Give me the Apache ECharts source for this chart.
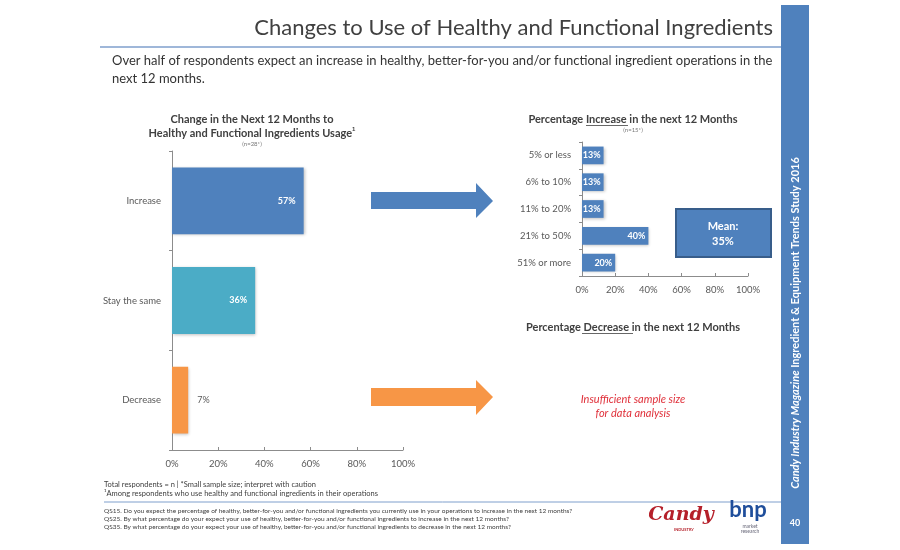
<!DOCTYPE html>
<html style="height: 100%">
<head>
    <meta charset="utf-8">
    <style>
        html, body { height: 100%; margin: 0; overflow: hidden; background: #fff; }
        #container { width: 900px; height: 550px; }
    </style>
    <title>Changes to Use of Healthy and Functional Ingredients</title>
</head>
<body>
<div id="container"></div>
<script src="https://cdn.jsdelivr.net/npm/echarts@6/dist/echarts.min.js"></script>
<script type="text/javascript">
// left chart: change in next 12 months (n=28*)
var changeCats = ['Increase', 'Stay the same', 'Decrease'];
var changeVals = [57, 36, 7];
var changeColors = ['#4f81bd', '#4bacc6', '#f79646'];
// right chart: percentage increase (n=15*)
var incCats = ['5% or less', '6% to 10%', '11% to 20%', '21% to 50%', '51% or more'];
var incVals = [13, 13, 13, 40, 20];
var meanText = 'Mean:\n35%';

var FONT = 'Lato, "Open Sans", sans-serif';
var grey = '#595959';

var chart = echarts.init(document.getElementById('container'));

function pctAxis(idx) {
    return {
        type: 'value', gridIndex: idx, min: 0, max: 100, interval: 20,
        axisLine: { show: true, lineStyle: { color: '#8c8c8c' } },
        axisTick: { show: true, inside: true, length: 3, lineStyle: { color: '#8c8c8c' } },
        splitLine: { show: false },
        axisLabel: { formatter: '{value}%', color: grey, fontFamily: FONT, fontSize: 9.5, margin: 9 }
    };
}
function catAxis(idx, cats) {
    return {
        type: 'category', gridIndex: idx, data: cats, inverse: true,
        axisLine: { show: true, lineStyle: { color: '#8c8c8c' } },
        axisTick: { show: true, length: 3, lineStyle: { color: '#8c8c8c' } },
        axisLabel: { color: grey, fontFamily: FONT, fontSize: 9.5, margin: 11 }
    };
}

var leftData = changeVals.map(function (v, i) {
    var d = { value: v, itemStyle: { color: changeColors[i] } };
    if (v < 15) {
        d.label = { position: 'right', distance: 9, color: grey, fontWeight: 'normal' };
    }
    return d;
});

var option = {
    animation: false,
    grid: [
        { left: 172, top: 151, width: 231, height: 299 },
        { left: 582, top: 142, width: 166, height: 134 }
    ],
    xAxis: [pctAxis(0), pctAxis(1)],
    yAxis: [catAxis(0, changeCats), catAxis(1, incCats)],
    series: [
        {
            type: 'bar', xAxisIndex: 0, yAxisIndex: 0, barWidth: '67%',
            data: leftData,
            itemStyle: { shadowBlur: 3, shadowOffsetX: 1, shadowOffsetY: 1, shadowColor: 'rgba(0,0,0,0.25)' },
            label: {
                show: true, position: 'insideRight', distance: 8, formatter: '{c}%',
                color: '#fff', fontWeight: 'bold', fontFamily: FONT, fontSize: 9
            }
        },
        {
            type: 'bar', xAxisIndex: 1, yAxisIndex: 1, barWidth: '66%',
            data: incVals,
            itemStyle: { color: '#4f81bd', shadowBlur: 3, shadowOffsetX: 1, shadowOffsetY: 1, shadowColor: 'rgba(0,0,0,0.25)' },
            label: {
                show: true, position: 'insideRight', distance: 3, formatter: '{c}%',
                color: '#fff', fontWeight: 'bold', fontFamily: FONT, fontSize: 9
            }
        }
    ],
    graphic: [
        // side band
        { type: 'rect', shape: { x: 781, y: 5, width: 28, height: 539 }, style: { fill: '#4f81bd' } },
        { type: 'text', x: 795, y: 323, rotation: Math.PI / 2, style: {
            text: '{i|Candy Industry Magazine} Ingredient & Equipment Trends Study 2016', fill: '#fff',
            rich: { i: { fill: '#fff', font: 'italic bold 11px ' + FONT } },
            font: 'bold 11px ' + FONT, align: 'center', verticalAlign: 'middle' } },
        { type: 'text', x: 795, y: 523, style: { text: '40', fill: '#fff', font: 'bold 9px ' + FONT, align: 'center', verticalAlign: 'middle' } },
        // header
        { type: 'text', x: 773, y: 28, style: { text: 'Changes to Use of Healthy and Functional Ingredients',
            fill: '#404040', font: '22px ' + FONT, align: 'right', verticalAlign: 'middle' } },
        { type: 'line', shape: { x1: 100, y1: 47, x2: 781, y2: 47 }, style: { stroke: '#7f9fcc', lineWidth: 1.5 } },
        { type: 'text', x: 112, y: 70, style: {
            text: 'Over half of respondents expect an increase in healthy, better-for-you and/or functional ingredient operations in the\nnext 12 months.',
            fill: '#333', font: '13px ' + FONT, lineHeight: 18, verticalAlign: 'middle' } },
        // left chart title
        { type: 'text', x: 252, y: 126, style: {
            text: 'Change in the Next 12 Months to\nHealthy and Functional Ingredients Usage{s|1}',
            rich: { s: { fontSize: 6, fontWeight: 'bold', fill: '#404040', verticalAlign: 'top', padding: [0, 0, 6, 0] } },
            fill: '#404040', font: 'bold 11px ' + FONT, lineHeight: 14, align: 'center', verticalAlign: 'middle' } },
        { type: 'text', x: 252, y: 144, style: { text: '(n=28*)', fill: '#777', font: '6px ' + FONT, align: 'center', verticalAlign: 'middle' } },
        // right chart titles
        { type: 'text', x: 633, y: 119, style: { text: 'Percentage Increase in the next 12 Months',
            fill: '#404040', font: 'bold 11px ' + FONT, align: 'center', verticalAlign: 'middle' } },
        { type: 'line', shape: { x1: 586, y1: 125.5, x2: 628, y2: 125.5 }, style: { stroke: '#404040', lineWidth: 0.8 } },
        { type: 'text', x: 633, y: 130, style: { text: '(n=15*)', fill: '#777', font: '6px ' + FONT, align: 'center', verticalAlign: 'middle' } },
        { type: 'text', x: 633, y: 327, style: { text: 'Percentage Decrease in the next 12 Months',
            fill: '#404040', font: 'bold 11px ' + FONT, align: 'center', verticalAlign: 'middle' } },
        { type: 'line', shape: { x1: 582, y1: 333.5, x2: 633, y2: 333.5 }, style: { stroke: '#404040', lineWidth: 0.8 } },
        { type: 'text', x: 633, y: 406, style: { text: 'Insufficient sample size\nfor data analysis',
            fill: '#e0303a', font: 'italic 11px ' + FONT, lineHeight: 14, align: 'center', verticalAlign: 'middle' } },
        // mean box
        { type: 'rect', shape: { x: 676, y: 209, width: 95, height: 48 }, style: { fill: '#4f81bd', stroke: '#385d8a', lineWidth: 2 } },
        { type: 'text', x: 723, y: 234, style: { text: meanText, fill: '#fff', font: 'bold 11px ' + FONT,
            lineHeight: 15, align: 'center', verticalAlign: 'middle' } },
        // arrows
        { type: 'polygon', shape: { points: [[371, 192], [476, 192], [476, 183], [493, 201], [476, 218], [476, 209], [371, 209]] },
            style: { fill: '#4f81bd' } },
        { type: 'polygon', shape: { points: [[371, 388], [476, 388], [476, 380], [493, 397], [476, 415], [476, 406], [371, 406]] },
            style: { fill: '#f79646' } },
        // footnotes
        { type: 'text', x: 104, y: 489, style: {
            text: 'Total respondents = n | *Small sample size; interpret with caution\n\u00B9Among respondents who use healthy and functional ingredients in their operations',
            fill: '#404040', font: '7.5px ' + FONT, lineHeight: 9, verticalAlign: 'middle' } },
        { type: 'line', shape: { x1: 104, y1: 502, x2: 781, y2: 502 }, style: { stroke: '#7f9fcc', lineWidth: 1 } },
        { type: 'text', x: 104, y: 519, style: {
            text: 'QS15. Do you expect the percentage of healthy, better-for-you and/or functional ingredients you currently use in your operations to increase in the next 12 months?\n' +
                  'QS25. By what percentage do your expect your use of healthy, better-for-you and/or functional ingredients to increase in the next 12 months?\n' +
                  'QS35. By what percentage do your expect your use of healthy, better-for-you and/or functional ingredients to decrease in the next 12 months?',
            fill: '#404040', font: '6.5px ' + FONT, lineHeight: 8, verticalAlign: 'middle' } },
        // logos
        { type: 'text', x: 681, y: 515, style: { text: 'Candy', fill: '#b5202a', font: 'italic bold 19px "DejaVu Serif", serif',
            align: 'center', verticalAlign: 'middle' } },
        { type: 'text', x: 684, y: 530, style: { text: 'INDUSTRY', fill: '#b5202a', font: 'bold 4px ' + FONT, align: 'center', verticalAlign: 'middle' } },
        { type: 'text', x: 748, y: 510, style: { text: 'bnp', fill: '#1f4e9b', font: 'bold 22px ' + FONT, align: 'center', verticalAlign: 'middle' } },
        { type: 'text', x: 750, y: 529, style: { text: 'market\nresearch', fill: '#667', font: '5px ' + FONT, lineHeight: 5,
            align: 'center', verticalAlign: 'middle' } }
    ]
};
chart.setOption(option);
</script>
</body>
</html>
